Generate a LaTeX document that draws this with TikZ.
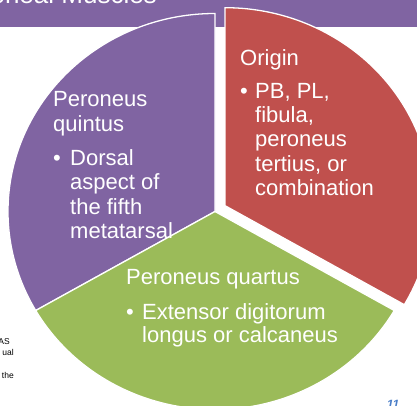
\documentclass[tikz,border=0pt]{standalone}
\usepackage{fontspec}
\setmainfont{Liberation Sans}
\usepackage{array}
\usetikzlibrary{calc}
\definecolor{purpleC}{HTML}{8064A2}
\definecolor{redC}{HTML}{C0504D}
\definecolor{greenC}{HTML}{9BBB59}
\definecolor{numC}{HTML}{4A7EC8}
\tikzset{
  sector/.style={draw=white, line width=1.3pt, line join=miter},
  lbl/.style={anchor=base west, inner sep=0pt, text=white, font=\fontsize{22}{24.3}\selectfont},
  smalltxt/.style={anchor=base east, inner sep=0pt, text=black, font=\fontsize{8.5}{10}\selectfont},
}
\begin{document}
\begin{tikzpicture}[x=1pt,y=1pt]
\useasboundingbox (0,0) rectangle (417,406);
\clip (0,0) rectangle (417,406);
% title banner
\fill[purpleC] (0,379.3) rectangle (417,406);
\node[anchor=base east, inner sep=0pt, text=white, font=\fontsize{26}{30}\selectfont] (title) at (157,402) {Accessory Peroneal Muscles};
% pie centre
\coordinate (C) at (215,194.5);
\coordinate (R) at ($(C)+(30:11.6)$);
% purple sector
\path[sector, fill=purpleC] (C) -- ++(90:207pt and 198pt)
  arc[start angle=90, end angle=210, x radius=207pt, y radius=198pt] -- cycle;
% green sector
\path[sector, fill=greenC] (C) -- ++(210:207pt and 198pt)
  arc[start angle=210, end angle=330, x radius=207pt, y radius=198pt] -- cycle;
% red sector (exploded)
\path[sector, fill=redC] (R) -- ++(-30:207pt and 198pt)
  arc[start angle=-30, end angle=90, x radius=207pt, y radius=198pt] -- cycle;
% texts
\node[lbl] (origin) at (240,340) {\begin{tabular}[t]{@{}p{15pt}@{}l@{}}
\multicolumn{2}{@{}l@{}}{Origin}\\[8pt]
\textbullet & PB, PL,\\
 & fibula,\\
 & peroneus\\
 & tertius, or\\
 & combination
\end{tabular}};
\node[lbl] (quintus) at (53,299) {\begin{tabular}[t]{@{}p{17pt}@{}l@{}}
\multicolumn{2}{@{}l@{}}{Peroneus}\\
\multicolumn{2}{@{}l@{}}{quintus}\\[10pt]
\textbullet & Dorsal\\
 & aspect of\\
 & the fifth\\
 & metatarsal
\end{tabular}};
\node[lbl] (quartus) at (126,121) {\begin{tabular}[t]{@{}p{16pt}@{}l@{}}
\multicolumn{2}{@{}l@{}}{Peroneus quartus}\\[10.5pt]
\textbullet & Extensor digitorum\\[-1.3pt]
 & longus or calcaneus
\end{tabular}};
% cut-off side text
\node[smalltxt] (s1) at (10,61) {AS};
\node[smalltxt] (s2) at (14,50) {ual};
\node[smalltxt] (s3) at (14,27) {the};
% page number
\node[anchor=base, inner sep=0pt, text=numC, font=\fontsize{12}{14}\selectfont\bfseries\itshape] (page) at (393,-3) {11};
\end{tikzpicture}
\end{document}
